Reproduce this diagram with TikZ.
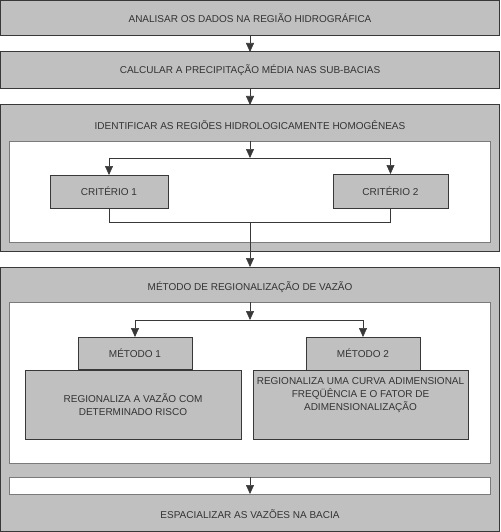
\documentclass[tikz,border=0pt]{standalone}
\usepackage{xcolor}
\usepackage{fontspec}
\setmainfont{Liberation Sans}
\usepackage{tikz}
\usetikzlibrary{arrows.meta}

\definecolor{cinza}{HTML}{C0C0C0}
\definecolor{borda}{HTML}{383838}
\definecolor{bordaclara}{HTML}{7A7A7A}
\definecolor{texto}{HTML}{333333}

\begin{document}
\begin{tikzpicture}[x=1pt,y=-1pt,
    etapa/.style={fill=cinza,draw=borda,line width=1pt,inner sep=0pt,outer sep=0pt,shape=rectangle},
    quadro/.style={fill=white,draw=bordaclara,line width=1pt,inner sep=0pt,outer sep=0pt,shape=rectangle},
    caixa/.style={fill=cinza,draw=borda,line width=0.8pt,inner sep=0pt,outer sep=0pt,shape=rectangle,text=texto,align=center},
    rotulo/.style={text=texto,inner sep=0pt},
    seta/.style={draw=borda,line width=0.6pt,-{Triangle[length=9pt,width=8pt]}},
    linha/.style={draw=borda,line width=0.6pt},
    font=\fontsize{10}{13}\selectfont]
                    \useasboundingbox (0,0) rectangle (500,532);

                    % etapas 1 e 2
                    \node[etapa,text=texto,minimum width=499pt,minimum height=35pt] (E1) at (250,18) {ANALISAR OS DADOS NA REGIÃO HIDROGRÁFICA};
                    \node[etapa,text=texto,minimum width=499pt,minimum height=37pt] (E2) at (250,70.5) {CALCULAR A PRECIPITAÇÃO MÉDIA NAS SUB-BACIAS};

                    % regioes homogeneas
                    \node[etapa,minimum width=499pt,minimum height=146pt] (E3) at (250,178) {};
                    \node[rotulo] (T3) at (250,125) {IDENTIFICAR AS REGIÕES HIDROLOGICAMENTE HOMOGÊNEAS};
                    \node[quadro,minimum width=481pt,minimum height=101pt] (W1) at (250,191.5) {};
                    \node[caixa,minimum width=118pt,minimum height=33pt] (C1) at (109,191.5) {CRITÉRIO 1};
                    \node[caixa,minimum width=115pt,minimum height=34pt] (C2) at (390.5,191) {CRITÉRIO 2};
                    \coordinate (s1) at (250,158);
                    \coordinate (j1) at (250,222);

                    % regionalizacao
                    \node[etapa,minimum width=499pt,minimum height=264pt] (E4) at (250,399) {};
                    \node[rotulo] (T4) at (250,287) {MÉTODO DE REGIONALIZAÇÃO DE VAZÃO};
                    \node[quadro,minimum width=481pt,minimum height=161pt] (W2) at (250,382.5) {};
                    \node[caixa,minimum width=216pt,minimum height=69pt] (R1) at (133,404.5) {REGIONALIZA A VAZÃO COM\\DETERMINADO RISCO};
                    \node[caixa,minimum width=215pt,minimum height=69pt] (R2) at (360.5,404.5) {REGIONALIZA UMA CURVA ADIMENSIONAL\\FREQÜÊNCIA E O FATOR DE\\ADIMENSIONALIZAÇÃO\\[7pt]\mbox{}};
                    \node[caixa,minimum width=114pt,minimum height=32pt] (M1) at (135,353) {MÉTODO 1};
                    \node[caixa,minimum width=114pt,minimum height=33pt] (M2) at (363,353.5) {MÉTODO 2};
                    \coordinate (s2) at (250,320);
                    \node[quadro,minimum width=481pt,minimum height=17pt] (W3) at (250,485.5) {};
                    \node[rotulo] (T5) at (250,514) {ESPACIALIZAR AS VAZÕES NA BACIA};

                    \draw[seta] (E1) -- (E2);
                    \draw[seta] (E2) -- (E3);
                    \draw[seta] (W1.north) -- (s1);
                    \draw[seta] (s1) -| (C1.north);
                    \draw[seta] (s1) -| (C2.north);
                    \draw[linha] (C1.south) |- (j1);
                    \draw[linha] (C2.south) |- (j1);
                    \draw[seta] (j1) -- (E4.north);
                    \draw[seta] (W2.north) -- (s2);
                    \draw[seta] (s2) -| (M1.north);
                    \draw[seta] (s2) -| (M2.north);
                    \draw[seta] (W3.north) -- (W3.south);
                \end{tikzpicture}
\end{document}
